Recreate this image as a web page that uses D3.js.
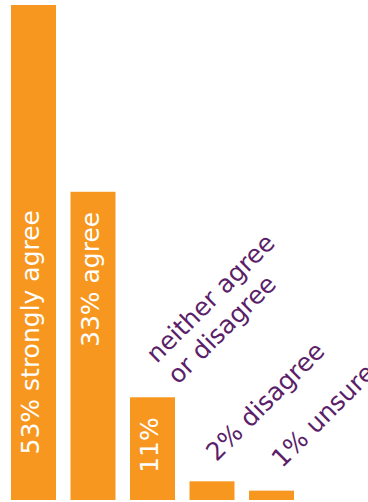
<!DOCTYPE html>
<html>
<head>
<meta charset="utf-8">
<script src="https://cdn.jsdelivr.net/npm/d3@7"></script>
<style>
  html, body { margin: 0; padding: 0; background: #fff; }
  svg { display: block; }
  .inside { fill: #fff; }
  .outside { fill: #5b1f69; }
  text { font-family: "DejaVu Sans", sans-serif; font-size: 25px; }
</style>
</head>
<body>
<div id="chart"></div>
<script>
// answers, in display order
let categories = ['strongly agree', 'agree', 'neither agree or disagree', 'disagree', 'unsure'];
let values = [53, 33, 11, 2, 1];
// label written inside the bar (rotated up), or outside at 45 degrees
let insideLabels = ['53% strongly agree', '33% agree', '11%', null, null];
let outsideLabels = [null, null, ['neither agree', 'or disagree'], ['2% disagree'], ['1% unsure']];

let width = 368;
let height = 502;

let svg = d3.select('#chart')
            .append('svg')
            .attr('width', width)
            .attr('height', height);

let x = d3.scaleBand()
          .domain(categories)
          .range([11, 294])
          .paddingInner(0.244)
          .paddingOuter(0);

let y = d3.scaleLinear()
          .domain([0, 53])
          .range([500, 5]);

let rows = categories.map((c, i) => ({
  i: i,
  cat: c,
  value: values[i],
  inside: insideLabels[i],
  outside: outsideLabels[i]
}));

svg.selectAll('.bar')
   .data(rows)
   .enter().append('rect')
   .attr('class', 'bar')
   .attr('x', d => x(d.cat))
   .attr('y', d => y(d.value))
   .attr('width', x.bandwidth())
   .attr('height', d => y(0) - y(d.value))
   .attr('fill', '#f7971f');

// white labels read bottom to top, ending a little under the bar top
svg.selectAll('.inside')
   .data(rows.filter(d => d.inside))
   .enter().append('text')
   .attr('class', 'inside')
   .attr('text-anchor', 'end')
   .attr('transform', d => {
     let tx = x(d.cat) + 28;
     let ty = Math.max(y(d.value) + 20, 210);
     return `translate(${tx}, ${ty}) rotate(-90)`;
   })
   .text(d => d.inside);

// purple labels above the short bars, tilted 45 degrees
// (the last one runs off the right edge, as in the original)
let nudge = {2: [48, -12], 3: [27, -19], 4: [33, -22]};
let lineHeight = 30;

let outside = svg.selectAll('.outside-group')
                 .data(rows.filter(d => d.outside))
                 .enter().append('g')
                 .attr('class', 'outside-group')
                 .attr('transform', d => {
                   let n = nudge[d.i];
                   return `translate(${x(d.cat) + n[0]}, ${y(d.value) + n[1]}) rotate(-45)`;
                 });

outside.selectAll('text')
       .data(d => d.outside.map((t, k) => ({t: t, k: k, n: d.outside.length})))
       .enter().append('text')
       .attr('class', 'outside')
       .attr('x', 0)
       .attr('y', d => (d.k - d.n + 1) * lineHeight)
       .text(d => d.t);
</script>
</body>
</html>
